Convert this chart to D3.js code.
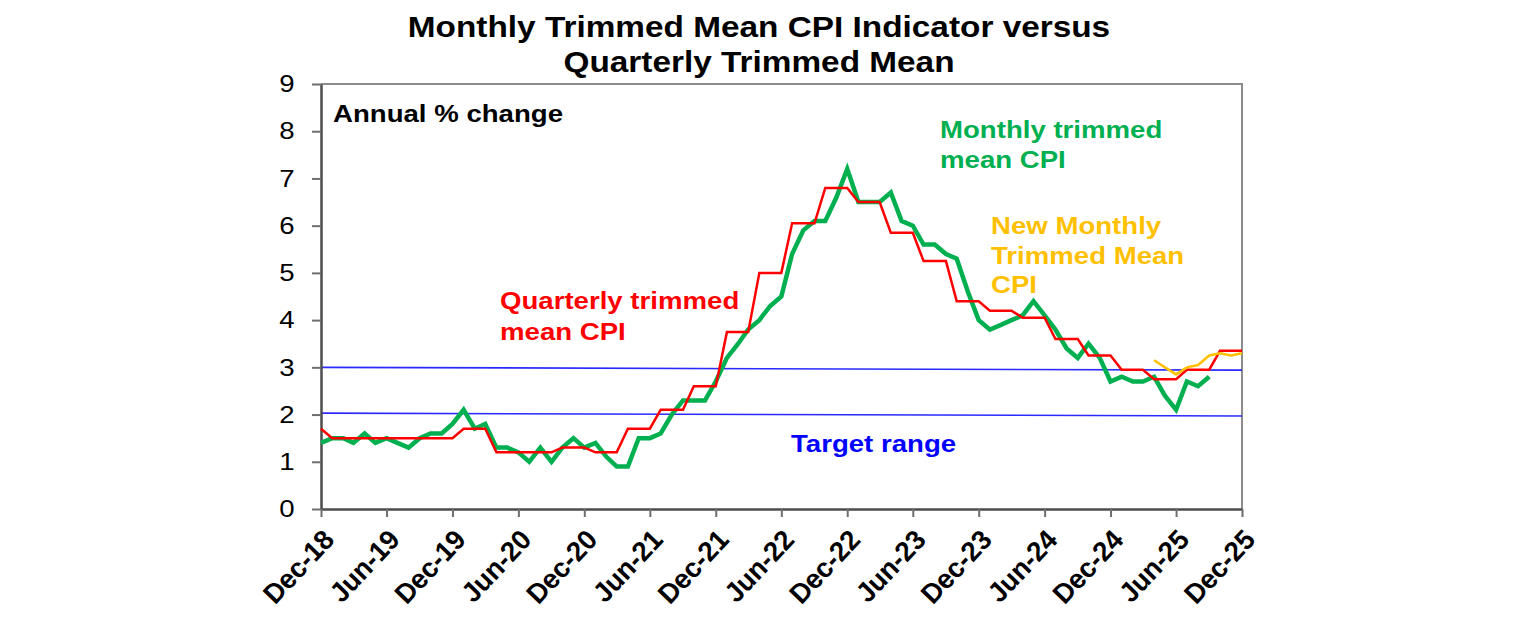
<!DOCTYPE html>
<html>
<head>
<meta charset="utf-8">
<script src="https://cdn.jsdelivr.net/npm/d3@7"></script>
<style>
  body { margin: 0; background: #fff; }
  svg { display: block; font-family: "Liberation Sans", Arial, sans-serif; }
</style>
</head>
<body>
<svg id="chart"></svg>
<script>
// x axis ticks, every six months
const tickLabels = ["Dec-18", "Jun-19", "Dec-19", "Jun-20", "Dec-20", "Jun-21", "Dec-21",
    "Jun-22", "Dec-22", "Jun-23", "Dec-23", "Jun-24", "Dec-24", "Jun-25", "Dec-25"];
const yTicks = [0, 1, 2, 3, 4, 5, 6, 7, 8, 9];

// monthly trimmed mean CPI indicator, Dec-18 to Sep-25
const monthlyStart = "Dec-18";
const monthlyValues = [
    1.4, 1.5, 1.5, 1.4, 1.6, 1.4, 1.5, 1.4, 1.3, 1.5, 1.6, 1.6,
    1.8, 2.1, 1.7, 1.8, 1.3, 1.3, 1.2, 1.0, 1.3, 1.0, 1.3, 1.5,
    1.3, 1.4, 1.1, 0.9, 0.9, 1.5, 1.5, 1.6, 2.0, 2.3, 2.3, 2.3,
    2.7, 3.2, 3.5, 3.8, 4.0, 4.3, 4.5, 5.4, 5.9, 6.1, 6.1, 6.6,
    7.2, 6.5, 6.5, 6.5, 6.7, 6.1, 6.0, 5.6, 5.6, 5.4, 5.3, 4.6,
    4.0, 3.8, 3.9, 4.0, 4.1, 4.4, 4.1, 3.8, 3.4, 3.2, 3.5, 3.2,
    2.7, 2.8, 2.7, 2.7, 2.8, 2.4, 2.1, 2.7, 2.6, 2.8
];

// quarterly trimmed mean, shown against each month of its quarter
const quarterlyStart = "Dec-18";
const quarterlyValues = [
    1.7,
    1.5, 1.5, 1.5, 1.5, 1.5, 1.5, 1.5, 1.5, 1.5, 1.5, 1.5, 1.5,
    1.7, 1.7, 1.7, 1.2, 1.2, 1.2, 1.2, 1.2, 1.2, 1.3, 1.3, 1.3,
    1.2, 1.2, 1.2, 1.7, 1.7, 1.7, 2.1, 2.1, 2.1, 2.6, 2.6, 2.6,
    3.75, 3.75, 3.75, 5.0, 5.0, 5.0, 6.05, 6.05, 6.05, 6.8, 6.8, 6.8,
    6.5, 6.5, 6.5, 5.85, 5.85, 5.85, 5.25, 5.25, 5.25, 4.4, 4.4, 4.4,
    4.2, 4.2, 4.2, 4.05, 4.05, 4.05, 3.6, 3.6, 3.6, 3.25, 3.25, 3.25,
    2.95, 2.95, 2.95, 2.75, 2.75, 2.75, 2.95, 2.95, 2.95, 3.35, 3.35, 3.35
];

// new monthly trimmed mean CPI, Apr-25 to Dec-25
const newMonthlyStart = "Apr-25";
const newMonthlyValues = [3.15, 3.0, 2.85, 3.0, 3.05, 3.25, 3.3, 3.25, 3.3];

// RBA target band edges (as drawn, first and last month)
const targetMonths = ["Dec-18", "Dec-25"];
const targetTop = [3.0, 2.94];
const targetBottom = [2.03, 1.97];

const parseMonth = d3.timeParse("%b-%y");
const stretch = 1.15;   // the original picture is wider than it is tall

function toSeries(start, values) {
    const first = parseMonth(start);
    return values.map((v, i) => ({date: d3.timeMonth.offset(first, i), value: v}));
}

const width = 1536, height = 630;
const plot = {left: 321, right: 1242, top: 84, bottom: 509};

const svg = d3.select("#chart")
    .attr("width", width)
    .attr("height", height);

const x = d3.scaleTime()
    .domain([parseMonth(tickLabels[0]), parseMonth(tickLabels[tickLabels.length - 1])])
    .range([plot.left, plot.right]);

const y = d3.scaleLinear()
    .domain([0, 9])
    .range([plot.bottom, plot.top]);

const line = d3.line()
    .x(d => x(d.date))
    .y(d => y(d.value));

// frame top and right
svg.append("path")
    .attr("d", `M${plot.left},${plot.top}H${plot.right}V${plot.bottom}`)
    .attr("fill", "none")
    .attr("stroke", "#8c8c8c")
    .attr("stroke-width", 2);

// target range
[targetTop, targetBottom].forEach(vals => {
    svg.append("path")
        .datum(vals.map((v, i) => ({date: parseMonth(targetMonths[i]), value: v})))
        .attr("d", line)
        .attr("fill", "none")
        .attr("stroke", "#2a2aff")
        .attr("stroke-width", 1.6);
});

// axes
const yAxis = svg.append("g")
    .attr("transform", `translate(${plot.left},0)`)
    .call(d3.axisLeft(y).tickValues(yTicks).tickSize(9).tickSizeOuter(0).tickPadding(14));

yAxis.selectAll("text")
    .attr("transform", `scale(${stretch},1)`)
    .style("font-size", "24px")
    .attr("fill", "#000");

const xAxis = svg.append("g")
    .attr("transform", `translate(0,${plot.bottom})`)
    .call(d3.axisBottom(x)
        .tickValues(tickLabels.map(parseMonth))
        .tickFormat((d, i) => tickLabels[i])
        .tickSize(8)
        .tickSizeOuter(0));

xAxis.selectAll("text")
    .attr("x", 0).attr("y", 0).attr("dy", 0)
    .attr("text-anchor", "end")
    .attr("transform", "translate(15,31) scale(1.2,1) rotate(-52)")
    .style("font-size", "25px")
    .style("font-weight", "bold")
    .style("font-style", "italic")
    .attr("fill", "#000");

svg.selectAll(".domain")
    .attr("stroke", "#4d4d4d")
    .attr("stroke-width", 2.5);
svg.selectAll(".tick line")
    .attr("stroke", "#6e6e6e")
    .attr("stroke-width", 2);

// series
svg.append("path")
    .datum(toSeries(monthlyStart, monthlyValues))
    .attr("d", line)
    .attr("fill", "none")
    .attr("stroke", "#00b050")
    .attr("stroke-width", 4.5);

svg.append("path")
    .datum(toSeries(quarterlyStart, quarterlyValues))
    .attr("d", line)
    .attr("fill", "none")
    .attr("stroke", "#ff0000")
    .attr("stroke-width", 2.5);

svg.append("path")
    .datum(toSeries(newMonthlyStart, newMonthlyValues))
    .attr("d", line)
    .attr("fill", "none")
    .attr("stroke", "#ffc000")
    .attr("stroke-width", 2.5);

// texts
function label(lines, x0, y0, color, size, anchor, step) {
    lines.forEach((t, i) => {
        svg.append("text")
            .attr("transform", `translate(${x0},${y0 + i * step}) scale(${stretch},1)`)
            .attr("text-anchor", anchor)
            .style("font-size", size + "px")
            .style("font-weight", "bold")
            .attr("fill", color)
            .text(t);
    });
}

label(["Monthly Trimmed Mean CPI Indicator versus", "Quarterly Trimmed Mean"], 759, 37, "#000", 29, "middle", 35);
label(["Annual % change"], 333, 122, "#000", 24, "start", 30);
label(["Monthly trimmed", "mean CPI"], 940, 138, "#00b050", 24, "start", 30);
label(["New Monthly", "Trimmed Mean", "CPI"], 991, 234, "#ffc000", 24, "start", 29.5);
label(["Quarterly trimmed", "mean CPI"], 500, 309, "#ff0000", 24, "start", 31);
label(["Target range"], 791, 452, "#0000ff", 24, "start", 30);
</script>
</body>
</html>
